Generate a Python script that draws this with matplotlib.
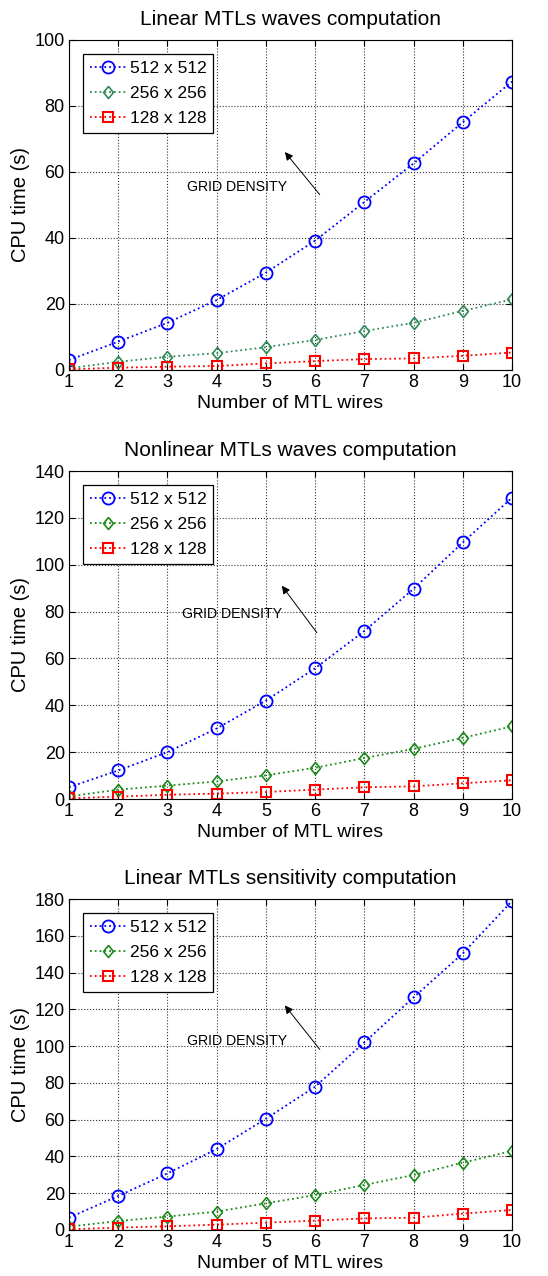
import numpy as np
import matplotlib
matplotlib.use("Agg")
import matplotlib.pyplot as plt

plt.rcParams['font.family'] = ['Liberation Sans', 'DejaVu Sans']

wires = [1, 2, 3, 4, 5, 6, 7, 8, 9, 10]
labels = ["512 x 512", "256 x 256", "128 x 128"]

# linear MTLs waves
lin_512 = [3.0, 8.6, 14.3, 21.2, 29.5, 39.2, 50.9, 62.6, 75.1, 87.4]
lin_256 = [0.5, 2.5, 4.0, 5.1, 6.9, 9.1, 11.8, 14.3, 17.9, 21.4]
lin_128 = [0.2, 0.7, 1.0, 1.2, 2.0, 2.7, 3.3, 3.5, 4.3, 5.3]

# nonlinear MTLs waves
nl_512 = [5.0, 12.2, 20.0, 30.1, 42.0, 55.8, 71.7, 89.7, 109.5, 128.6]
nl_256 = [1.1, 4.0, 5.7, 7.5, 10.1, 13.3, 17.5, 21.4, 26.1, 31.0]
nl_128 = [0.3, 1.0, 1.8, 2.3, 3.0, 4.0, 5.0, 5.4, 6.7, 8.0]

# linear MTLs sensitivity
sens_512 = [6.7, 18.5, 30.8, 44.0, 60.5, 77.9, 102.0, 126.5, 150.4, 178.9]
sens_256 = [1.8, 4.9, 7.3, 10.0, 14.5, 19.0, 24.5, 29.9, 36.6, 43.0]
sens_128 = [0.4, 1.3, 2.0, 2.9, 4.0, 5.1, 6.3, 6.7, 8.9, 10.9]

titles = ["Linear MTLs waves computation",
          "Nonlinear MTLs waves computation",
          "Linear MTLs sensitivity computation"]
ymax = [100, 140, 180]
ystep = [20, 20, 20]
greens = ["#2e8b57", "#1a8a1a", "#1a8a1a"]
# arrow (tail, head) and text position in data coords
arrows = [((6.13, 52.5), (5.35, 66.7), (4.41, 55.5)),
          ((6.07, 70.0), (5.29, 92.0), (4.31, 79.0)),
          ((6.13, 97.0), (5.35, 123.3), (4.41, 102.8))]

data = [(lin_512, lin_256, lin_128),
        (nl_512, nl_256, nl_128),
        (sens_512, sens_256, sens_128)]

diamond = [(0, 1), (0.82, 0), (0, -1), (-0.82, 0), (0, 1)]

fig = plt.figure(figsize=(5.48, 12.76), dpi=100)
W, H = 548.0, 1276.0
boxes = [(40, 370), (471, 799), (899, 1230)]

for i in range(3):
    top, bot = boxes[i]
    ax = fig.add_axes([69 / W, 1 - bot / H, (512 - 69) / W, (bot - top) / H])
    s512, s256, s128 = data[i]
    ax.plot(wires, s512, ':', color='blue', lw=1.3, marker='o', ms=8.7,
            mfc='none', mew=1.3, label=labels[0])
    ax.plot(wires, s256, ':', color=greens[i], lw=1.3, marker=diamond, ms=8.7,
            mfc='none', mew=1.2, label=labels[1])
    ax.plot(wires, s128, ':', color='red', lw=1.3, marker='s', ms=7.2,
            mfc='none', mew=1.5, label=labels[2])
    ax.set_xlim(1, 10)
    ax.set_ylim(0, ymax[i])
    ax.set_xticks(wires)
    ax.set_yticks(np.arange(0, ymax[i] + 1, ystep[i]))
    ax.grid(True, linestyle=':', color='#333333', lw=0.8)
    ax.tick_params(direction='in', top=True, right=True, labelsize=13,
                   length=4, pad=3)
    for sp in ax.spines.values():
        sp.set_linewidth(0.8)
    ax.set_title(titles[i], fontsize=15, pad=11)
    ax.set_xlabel("Number of MTL wires", fontsize=14, labelpad=3)
    ax.set_ylabel("CPU time (s)", fontsize=14.5, labelpad=3)
    leg = ax.legend(loc='upper left', fontsize=12.5, fancybox=False,
                    edgecolor='black', framealpha=1, handlelength=2.1,
                    borderaxespad=0.8, labelspacing=0.56, handletextpad=0.2,
                    borderpad=0.4)
    leg.get_frame().set_linewidth(0.9)
    tail, head, txt = arrows[i]
    ax.annotate("", xy=head, xytext=tail,
                arrowprops=dict(arrowstyle='-|>', color='black', lw=0.7,
                                mutation_scale=12))
    ax.text(txt[0], txt[1], "GRID DENSITY", fontsize=10.2, ha='center',
            va='center')

fig.savefig("out.png", dpi=100)
